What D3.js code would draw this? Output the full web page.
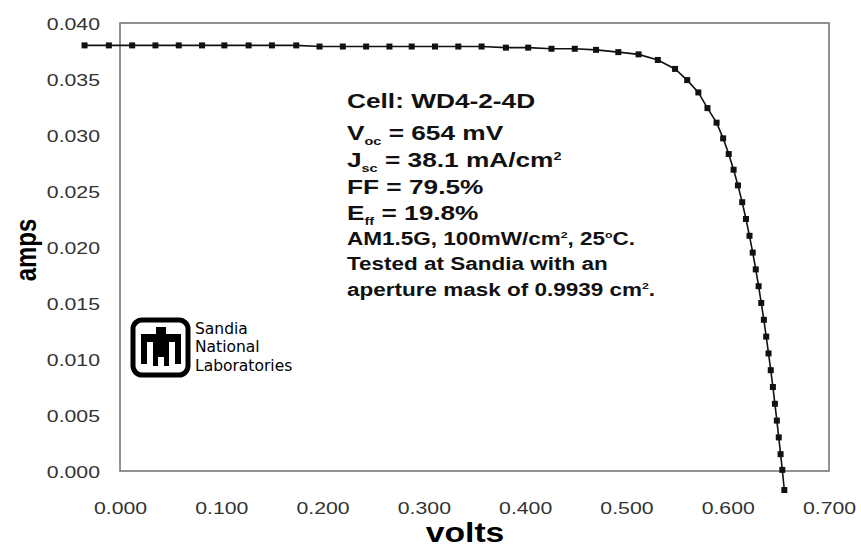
<!DOCTYPE html>
<html>
<head>
<meta charset="utf-8">
<script src="https://cdn.jsdelivr.net/npm/d3@7"></script>
<style>
  body { margin: 0; background: #fff; }
  svg { display: block; font-family: "Liberation Sans", Arial, sans-serif; }
</style>
</head>
<body>
<div id="chart"></div>
<script>
// I-V curve data (volts, amps)
const volts = [
  -0.035, -0.011, 0.012, 0.035, 0.058, 0.081, 0.103, 0.127, 0.150, 0.174,
  0.197, 0.220, 0.243, 0.266, 0.288, 0.311, 0.334, 0.357, 0.381, 0.403,
  0.426, 0.449, 0.470, 0.492, 0.512, 0.531, 0.548, 0.560, 0.571, 0.580,
  0.589, 0.5955, 0.601, 0.6058, 0.6101, 0.6143, 0.618, 0.6215, 0.6247, 0.6277,
  0.6305, 0.6331, 0.6357, 0.638, 0.6403, 0.6425, 0.6446, 0.6466, 0.6485, 0.6504,
  0.6522, 0.6539, 0.6559
];
const amps = [
  0.0380, 0.0380, 0.0380, 0.0380, 0.0380, 0.0380, 0.0380, 0.0380, 0.0380, 0.0380,
  0.0379, 0.0379, 0.0379, 0.0379, 0.0379, 0.0379, 0.0379, 0.0379, 0.0378, 0.0378,
  0.0377, 0.0377, 0.0376, 0.0374, 0.0372, 0.0367, 0.0359, 0.0349, 0.0338, 0.0324,
  0.0311, 0.0297, 0.0283, 0.0269, 0.0255, 0.0240, 0.0225, 0.0210, 0.0195, 0.0180,
  0.0165, 0.0150, 0.0135, 0.0120, 0.0105, 0.0090, 0.0075, 0.0060, 0.0045, 0.0030,
  0.0015, 0.0001, -0.0017
];
const xTicks = [0, 0.1, 0.2, 0.3, 0.4, 0.5, 0.6, 0.7];
const yTicks = [0, 0.005, 0.01, 0.015, 0.02, 0.025, 0.03, 0.035, 0.04];

const width = 861, height = 550;
const plotLeft = 120, plotRight = 829, plotTop = 23, plotBottom = 471;
const sx = 1.25; // the scan is stretched horizontally

const svg = d3.select("#chart").append("svg")
  .attr("width", width).attr("height", height);

const x = d3.scaleLinear().domain([0, 0.7]).range([plotLeft, plotRight]);
const y = d3.scaleLinear().domain([0, 0.04]).range([plotBottom, plotTop]);

// frame
svg.append("rect")
  .attr("x", plotLeft).attr("y", plotTop)
  .attr("width", plotRight - plotLeft).attr("height", plotBottom - plotTop)
  .attr("fill", "none").attr("stroke", "#777").attr("stroke-width", 1.6);

// y axis labels
const yAxis = svg.append("g").attr("transform", `translate(${plotLeft},0)`)
  .call(d3.axisLeft(y).tickValues(yTicks).tickFormat(d3.format(".3f")).tickSize(0).tickPadding(0));
yAxis.select(".domain").remove();
yAxis.selectAll("text")
  .attr("x", null).attr("dy", null)
  .attr("text-anchor", "end")
  .attr("transform", `translate(-20,6) scale(${sx},1)`)
  .style("font-size", "17px").style("fill", "#333");

// x axis labels
const xAxis = svg.append("g").attr("transform", `translate(0,${plotBottom})`)
  .call(d3.axisBottom(x).tickValues(xTicks).tickFormat(d3.format(".3f")).tickSize(0).tickPadding(0));
xAxis.select(".domain").remove();
xAxis.selectAll("text")
  .attr("y", null).attr("dy", null)
  .attr("text-anchor", "middle")
  .attr("transform", `translate(0,43) scale(${sx},1)`)
  .style("font-size", "17px").style("fill", "#333");

// axis titles
svg.append("text")
  .attr("transform", "translate(36,250) rotate(-90) scale(1,1.25)")
  .attr("text-anchor", "middle")
  .style("font-size", "24px").style("font-weight", "bold")
  .text("amps");
svg.append("text")
  .attr("transform", `translate(465,542) scale(${sx},1)`)
  .attr("text-anchor", "middle")
  .style("font-size", "27px").style("font-weight", "bold")
  .text("volts");

// curve
const line = d3.line().x((d) => x(d[0])).y((d) => y(d[1]));
const pts = volts.map((v, i) => [v, amps[i]]);
svg.append("path")
  .attr("d", line(pts))
  .attr("fill", "none").attr("stroke", "#111").attr("stroke-width", 1.6);
svg.selectAll(".pt").data(pts).enter().append("rect")
  .attr("class", "pt")
  .attr("x", (d) => x(d[0]) - 3).attr("y", (d) => y(d[1]) - 3)
  .attr("width", 6).attr("height", 6)
  .attr("fill", "#111");

// info block
const info = svg.append("g").style("font-weight", "bold").style("fill", "#111");
function infoLine(yy, size, parts) {
  const t = info.append("text")
    .attr("transform", `translate(347,${yy}) scale(${sx},1)`)
    .style("font-size", size + "px");
  parts.forEach((p) => {
    const s = t.append("tspan").text(p[0]);
    if (p[1] === "sub") s.attr("dy", 5).style("font-size", (size * 0.55) + "px");
    if (p[1] === "back") s.attr("dy", -5);
    if (p[1] === "sup") s.attr("dy", -7).style("font-size", (size * 0.55) + "px");
    if (p[1] === "supback") s.attr("dy", 7);
  });
}
infoLine(108, 21, [["Cell: WD4-2-4D"]]);
infoLine(140, 21, [["V"], ["oc", "sub"], [" = 654 mV", "back"]]);
infoLine(167, 21, [["J"], ["sc", "sub"], [" = 38.1 mA/cm", "back"], ["2", "sup"]]);
infoLine(194, 21, [["FF = 79.5%"]]);
infoLine(220, 21, [["E"], ["ff", "sub"], [" = 19.8%", "back"]]);
infoLine(245, 18, [["AM1.5G, 100mW/cm"], ["2", "sup"], [", 25", "supback"], ["o", "sup"], ["C.", "supback"]]);
infoLine(270, 18, [["Tested at Sandia with an"]]);
infoLine(296, 18, [["aperture mask of 0.9939 cm"], ["2", "sup"], [".", "supback"]]);

// Sandia logo
const logo = svg.append("g").attr("fill", "#000");
logo.append("rect")
  .attr("x", 133).attr("y", 320).attr("width", 55).attr("height", 55)
  .attr("rx", 9).attr("fill", "none").attr("stroke", "#000").attr("stroke-width", 5);
[
  [156, 327, 10, 7],   // head
  [141, 334, 40, 8],   // wings
  [141, 342, 6, 22],   // left wing tip
  [175, 342, 6, 22],   // right wing tip
  [153, 342, 16, 15],  // body
  [153, 357, 5, 9],    // left leg
  [164, 357, 5, 9]     // right leg
].forEach((r) => {
  logo.append("rect").attr("x", r[0]).attr("y", r[1]).attr("width", r[2]).attr("height", r[3]);
});
const logoText = svg.append("text")
  .attr("transform", "translate(195,334) scale(1.5,1.35)")
  .style("font-family", "'Liberation Sans Narrow', 'DejaVu Sans Condensed', sans-serif")
  .style("font-size", "11.5px").style("fill", "#000");
["Sandia", "National", "Laboratories"].forEach((s, i) => {
  logoText.append("tspan")
    .attr("x", 0).attr("dy", i === 0 ? 0 : 13.6)
    .text(s);
});
</script>
</body>
</html>
